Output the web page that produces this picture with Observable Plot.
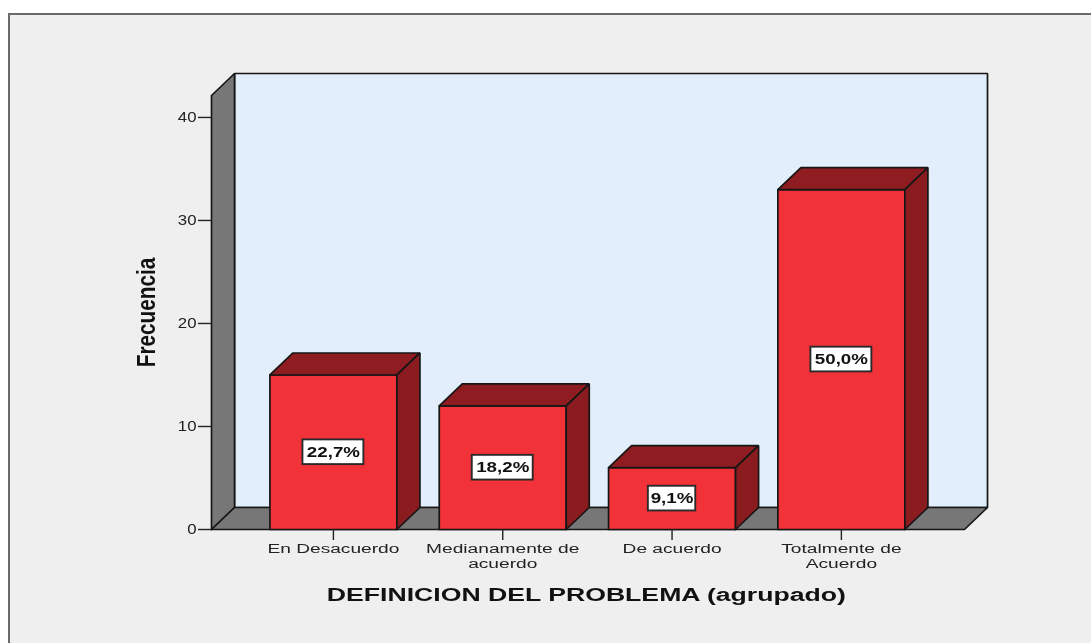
<!DOCTYPE html>
<html><head><meta charset="utf-8">
<script src="https://cdn.jsdelivr.net/npm/d3@7"></script>
<script src="https://cdn.jsdelivr.net/npm/@observablehq/plot@0.6"></script>
<style>
html,body{margin:0;padding:0;background:#fff;overflow:hidden}
#panel{position:absolute;left:8px;top:13px;width:1083px;height:630px;background:#efefef;border-left:2px solid #6a6a6a;border-top:2px solid #6a6a6a;box-sizing:border-box}
#chart{position:absolute;left:0;top:0;filter:blur(0.4px)}
svg{background:transparent !important}
</style></head><body>
<div id="panel"></div><div id="chart"></div>
<script>
const categories = ["En Desacuerdo","Medianamente de\nacuerdo","De acuerdo","Totalmente de\nAcuerdo"];
const frequencies = [15,12,6,33];
const percents = ["22,7%","18,2%","9,1%","50,0%"];
const boxHalfWidths = [0.18,0.18,0.14,0.18];
const yTicks = [0,10,20,30,40];
const xTitle = "DEFINICION DEL PROBLEMA (agrupado)";
const yTitle = "Frecuencia";

const barHalf = 0.375, depthX = 0.136, depthY = 2.136;
const floorL = -0.72, floorR = 3.727, wallTop = 42.13;

const poly = (id, pts) => pts.concat([pts[0]]).map(([x,y]) => ({id,x,y}));
const face = (pts, fill, sw=1.7) => Plot.line(poly("f", pts), {x:"x", y:"y", z:"id", fill, stroke:"#161616", strokeWidth:sw, curve:"linear", strokeLinejoin:"miter"});

const marks = [
  face([[floorL+depthX,depthY],[floorR+depthX,depthY],[floorR+depthX,wallTop+depthY],[floorL+depthX,wallTop+depthY]], "#e2eefb"),
  face([[floorL,0],[floorL+depthX,depthY],[floorL+depthX,wallTop+depthY],[floorL,wallTop]], "#777777"),
  face([[floorL,0],[floorR,0],[floorR+depthX,depthY],[floorL+depthX,depthY]], "#777777")
];
frequencies.forEach((v,i) => {
  const a = i-barHalf, b = i+barHalf;
  marks.push(face([[a,0],[b,0],[b,v],[a,v]], "#f23239"));
  marks.push(face([[a,v],[b,v],[b+depthX,v+depthY],[a+depthX,v+depthY]], "#8f1c20"));
  marks.push(face([[b,0],[b+depthX,depthY],[b+depthX,v+depthY],[b,v]], "#8a1c1f"));
});
const rows = frequencies.map((v,i) => ({i, v, mid:v/2, label:percents[i], hw:boxHalfWidths[i]}));
marks.push(
  Plot.rect(rows, {x1:d=>d.i-d.hw, x2:d=>d.i+d.hw, y1:d=>d.mid-1.2, y2:d=>d.mid+1.2, fill:"#fff", stroke:"#2a2a2a", strokeWidth:1.9}),
  Plot.text(rows, {x:"i", y:"mid", text:"label", fontWeight:"bold", fontSize:15, fill:"#111", fontFamily:"Liberation Sans"}),
  Plot.axisY({ticks:yTicks, tickSize:13, tickPadding:2, fontSize:14, label:null, stroke:"#222", strokeWidth:1.4, color:"#222", fontFamily:"Liberation Sans"}),
  Plot.axisX({ticks:[0,1,2,3], tickFormat:i=>categories[i], tickSize:11, tickPadding:1, fontSize:13.5, lineHeight:1.15, label:null, stroke:"#222", strokeWidth:1.4, color:"#222", fontFamily:"Liberation Sans"}),
  Plot.text([xTitle], {x:1.494, frameAnchor:"bottom", dy:71, fontWeight:"bold", fontSize:18, fill:"#111", fontFamily:"Liberation Sans"}),
  Plot.text([yTitle], {y:21.07, frameAnchor:"left", textAnchor:"middle", dx:-65, rotate:-90, fontWeight:"bold", fontSize:25, fill:"#111", fontFamily:"Liberation Sans"})
);

const svg = Plot.plot({
  width:1091, height:643,
  marginLeft:211, marginRight:104, marginTop:73, marginBottom:114,
  x:{type:"linear", domain:[floorL, floorR+depthX]},
  y:{type:"linear", domain:[0, wallTop+depthY]},
  style:{background:"transparent"},
  marks
});
const factor = (s) => {
  if (s === xTitle) return 1.48;
  if (s === yTitle) return 0.83;
  if (percents.includes(s)) return 1.25;
  if (yTicks.map(String).includes(s)) return 1.2;
  return 1.42;
};
d3.select(svg).selectAll("text").each(function(){
  const t = this.getAttribute("transform") || "";
  this.setAttribute("transform", `${t} scale(${factor(this.textContent)},1)`);
});
document.getElementById("chart").appendChild(svg);
</script>
</body></html>
